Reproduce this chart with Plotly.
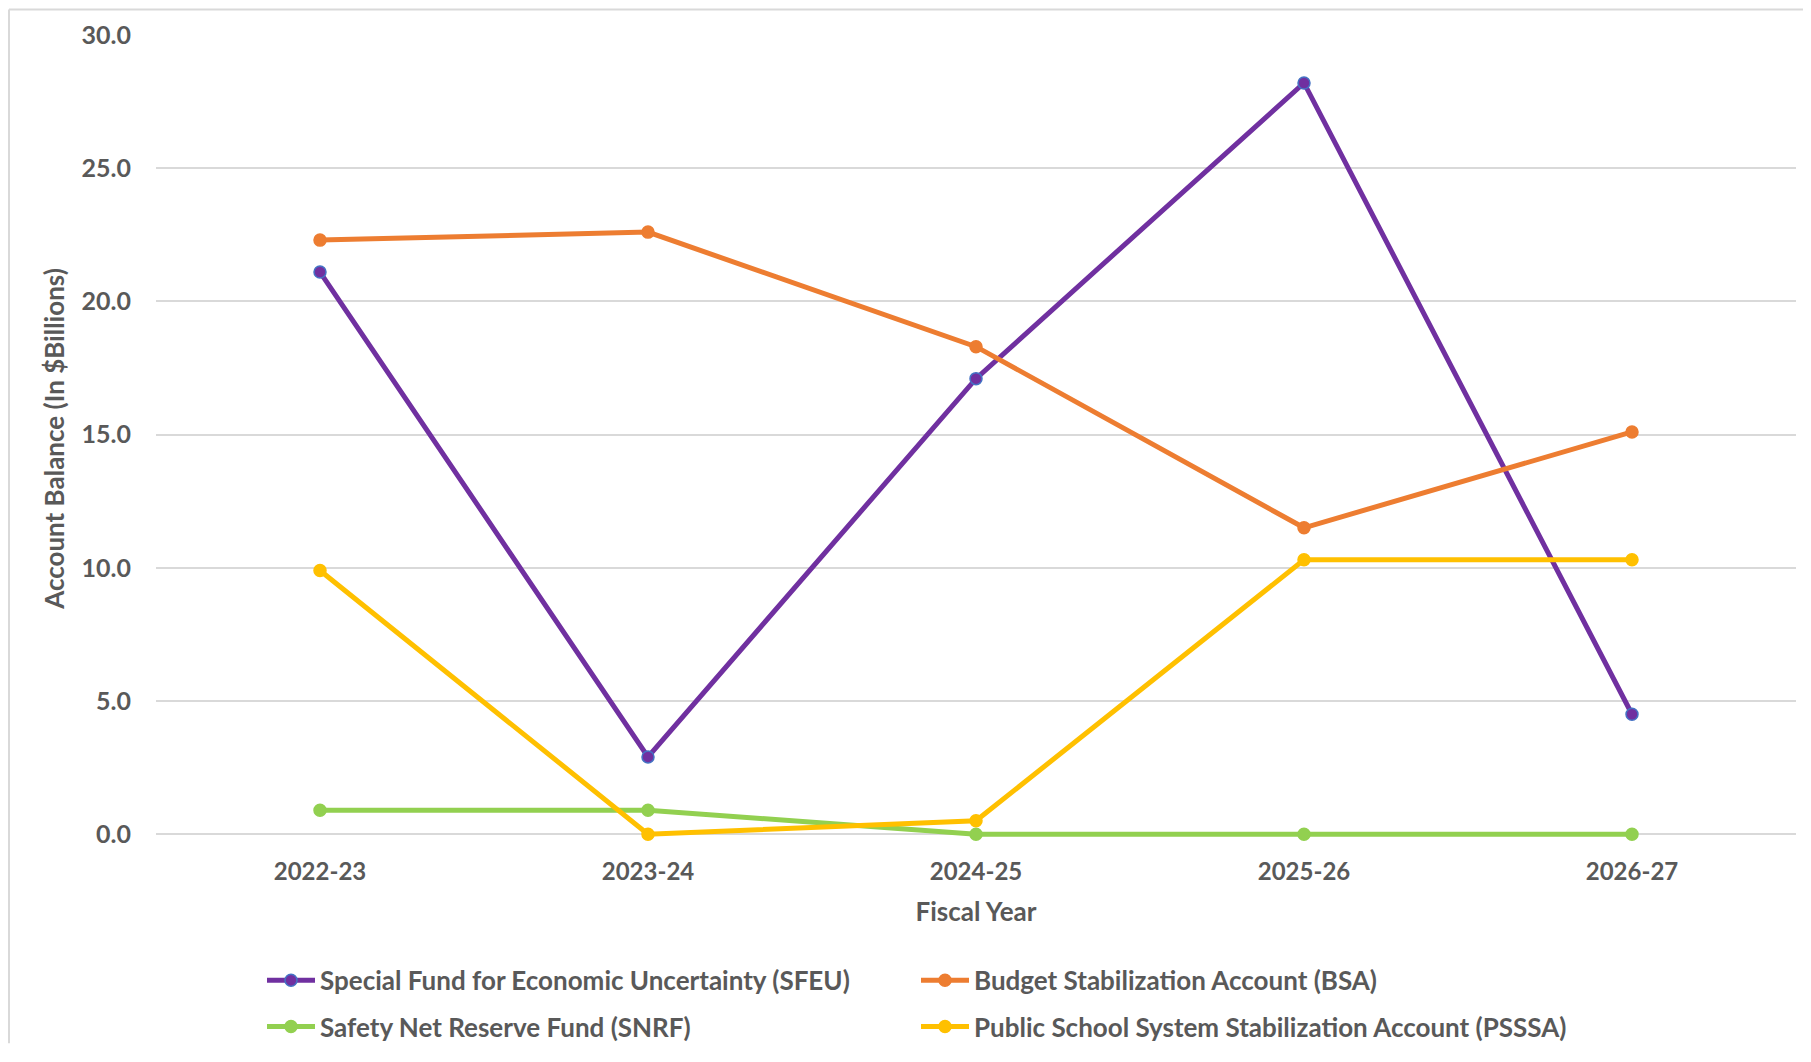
import plotly.graph_objects as go

years = ["2022-23", "2023-24", "2024-25", "2025-26", "2026-27"]
sfeu = [21.1, 2.9, 17.1, 28.2, 4.5]
bsa = [22.3, 22.6, 18.3, 11.5, 15.1]
snrf = [0.9, 0.9, 0.0, 0.0, 0.0]
psssa = [9.9, 0.0, 0.5, 10.3, 10.3]

series = [
    ("Special Fund for Economic Uncertainty (SFEU)", sfeu, "#7030A0", "#4472C4", "legend"),
    ("Budget Stabilization Account (BSA)", bsa, "#ED7D31", "#ED7D31", "legend"),
    ("Safety Net Reserve Fund (SNRF)", snrf, "#92D050", "#92D050", "legend2"),
    ("Public School System Stabilization Account (PSSSA)", psssa, "#FFC000", "#FFC000", "legend2"),
]

FONT = "Lato, 'Open Sans', sans-serif"
GREY = "#595959"

W, H = 1803, 1054
L, T, R, Y0 = 148, 27, 1788, 841   # Y0: pixel row of value 0
PAD = 8                             # extra plot area below zero so lines are not clipped
B = Y0 + PAD
PW, PH = R - L, B - T
unit = (Y0 - T) / 30.0
ymin = -PAD / unit

fig = go.Figure()
for name, vals, col, edge, lg in series:
    fig.add_trace(go.Scatter(
        x=years, y=vals, name=name, mode="lines+markers", legend=lg,
        line=dict(color=col, width=5), cliponaxis=False,
        marker=dict(color=col, size=12, line=dict(color=edge, width=1.5)),
    ))

legend_common = dict(
    orientation="h", xanchor="left", yanchor="middle",
    x=(254 - L) / PW,
    entrywidth=591, entrywidthmode="pixels",
    font=dict(family=FONT, size=26, color=GREY, weight="bold"),
    itemwidth=48, traceorder="normal", bgcolor="rgba(0,0,0,0)",
)

fig.update_layout(
    width=W, height=H,
    margin=dict(l=L, r=W - R, t=T, b=H - B),
    paper_bgcolor="white", plot_bgcolor="white",
    font=dict(family=FONT, color=GREY, size=24),
    showlegend=True,
    legend=dict(legend_common, y=(B - 990) / PH),
    legend2=dict(legend_common, y=(B - 1037) / PH),
    xaxis=dict(
        type="category", range=[-0.5, 4.5], showgrid=False, showline=False,
        zeroline=False, ticks="", ticklabelstandoff=21 - PAD,
        tickfont=dict(family=FONT, size=24, color=GREY, weight="bold"),
        title=dict(text="Fiscal Year", standoff=18,
                   font=dict(family=FONT, size=26, color=GREY, weight="bold")),
    ),
    yaxis=dict(
        range=[ymin, 30], tickvals=[0, 5, 10, 15, 20, 25, 30],
        ticktext=["0.0", "5.0", "10.0", "15.0", "20.0", "25.0", "30.0"],
        showgrid=True, gridcolor="#D9D9D9", gridwidth=1.5,
        zeroline=False, showline=False, ticks="", ticklabelstandoff=24,
        tickfont=dict(family=FONT, size=25, color=GREY, weight="bold"),
        title=dict(text="Account Balance (In $Billions)", standoff=9,
                   font=dict(family=FONT, size=26, color=GREY, weight="bold")),
    ),
)

# outer chart border (top and left edges visible)
bx = (1 - L) / PW
by = 1 + (T - 1) / PH
fig.add_shape(type="line", xref="paper", yref="paper",
              x0=bx, x1=(W - L) / PW, y0=by, y1=by,
              line=dict(color="#D9D9D9", width=2), layer="below")
fig.add_shape(type="line", xref="paper", yref="paper",
              x0=bx, x1=bx, y0=by, y1=(B - H) / PH,
              line=dict(color="#D9D9D9", width=2), layer="below")

fig.write_html("out.html")
